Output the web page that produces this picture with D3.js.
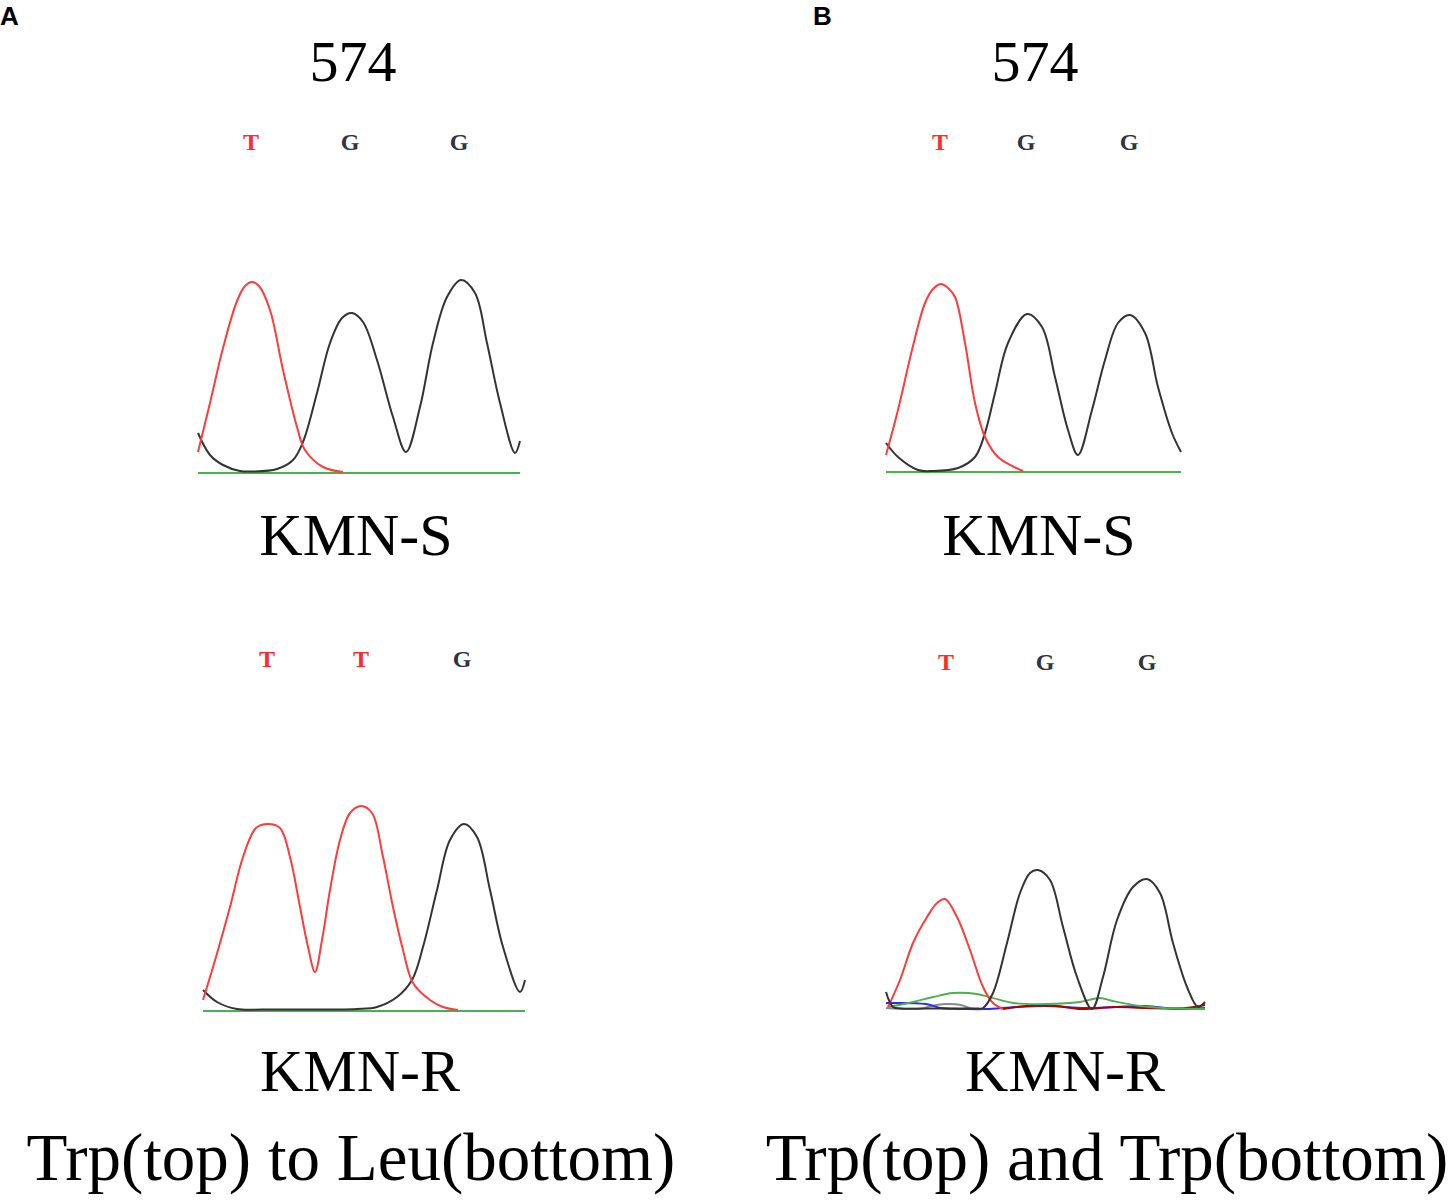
<!DOCTYPE html>
<html><head><meta charset="utf-8">
<script src="https://cdn.jsdelivr.net/npm/d3@7/dist/d3.min.js"></script>
<style>html,body{margin:0;padding:0;background:#fff}</style>
</head><body>
<svg id="chart" width="1449" height="1202"></svg>
<script>
// ---------- DATA ----------
const panelLabels = ["A", "B"];
const positionLabel = "574";
const sampleNames = ["KMN-S", "KMN-R"];
const captions = ["Trp(top) to Leu(bottom)", "Trp(top) and Trp(bottom)"];
const basesA_S = ["T", "G", "G"];
const basesA_R = ["T", "T", "G"];
const basesB_S = ["T", "G", "G"];
const basesB_R = ["T", "G", "G"];

// Trace points: [scan position, signal]
const aS_red = [[0,21],[12,70],[25,125],[39,172],[47,187],[54,191],[61,187],[72,163],[85,103],[99,46],[107,23],[125,6],[145,1]];
const aS_black = [[0,40],[12,18],[25,8],[42,2],[55,1.5],[79,4],[95,13],[105,31],[119,80],[132,130],[144,155],[154,160],[165,151],[179,113],[195,56],[208,21],[222,66],[235,130],[249,176],[263,193],[277,180],[289,130],[302,70],[317,20],[322,32]];
const aR_red = [[0,11],[13,54],[27,104],[40,154],[53,183],[65,187],[77,183],[87,154],[97,104],[105,64],[112,39],[119,71],[127,121],[137,171],[147,198],[158,205],[169,198],[180,154],[190,104],[200,61],[210,28],[227,11],[240,4],[255,1]];
const aR_black = [[0,21],[14,9],[34,2],[60,1.5],[100,1.5],[130,1.5],[154,2],[174,4],[194,14],[209,31],[220,64],[234,121],[247,171],[261,187],[274,174],[287,121],[300,64],[317,19],[322,31]];
const bS_red = [[0,17],[12,62],[26,122],[39,169],[47,183],[55,188],[62,184],[69,175],[79,129],[89,69],[99,35],[112,15],[137,1]];
const bS_black = [[0,29],[12,15],[32,2],[47,1],[72,4],[89,15],[99,39],[109,79],[122,129],[141,158],[156,145],[169,95],[182,42],[192,17],[206,62],[219,112],[232,149],[244,157],[259,139],[272,85],[286,39],[295,20]];
const bR_red = [[2,3],[14,30],[27,67],[41,93],[51,107],[59,111],[71,93],[84,60],[97,23],[107,7],[117,1]];
const bR_black = [[0,18],[7,3],[15,1.5],[40,1.5],[70,1.5],[90,1.5],[97,2],[107,17],[121,67],[134,117],[144,137],[152,140],[164,130],[177,83],[191,33],[206,1],[217,33],[231,90],[247,123],[261,131],[274,117],[287,67],[301,23],[312,3],[319,8]];
const bR_green = [[2,3],[27,8],[47,13],[67,17],[91,16],[107,12],[127,7],[161,6],[194,8],[214,12],[227,9],[254,4],[277,2],[319,1]];
const bR_blue = [[0,7],[40,6],[55,2],[80,1],[100,1],[130,3],[160,4],[200,2],[230,3],[260,4],[290,1],[319,2]];
const bR_noiseRed = [[117,1],[140,4],[170,4],[195,1],[230,3],[260,2],[300,2],[319,5]];
const bR_gray = [[0,2],[35,1.5],[45,4],[60,6],[75,5],[85,1.5],[100,1]];

// ---------- DRAWING ----------
const svg = d3.select("#chart");
const serif = "'Liberation Serif','Times New Roman',serif";
const RED = "#ff3b3b", BLACK = "#333333", GREEN = "#4caf50", BLUE = "#2b2bff", DRED = "#b00000", GRAY = "#8a8a8a";

function panel(cfg) {
  const x = d3.scaleLinear().domain([0, cfg.w]).range([cfg.left, cfg.right]);
  const y = d3.scaleLinear().domain([0, 200]).range([cfg.base, cfg.base - 200]);
  const line = d3.line().x(d => x(d[0])).y(d => y(d[1])).curve(d3.curveCatmullRom.alpha(0.5));
  const g = svg.append("g");
  if (cfg.greenLine) {
    g.append("path").attr("d", line([[0,0],[cfg.w,0]])).attr("stroke", GREEN).attr("stroke-width", 2.2).attr("fill", "none");
  }
  cfg.traces.forEach(t => {
    g.append("path").attr("d", line(t.data)).attr("stroke", t.color).attr("stroke-width", t.sw || 2).attr("fill", "none").attr("stroke-linejoin","round");
  });
  const bx = d3.scaleOrdinal().domain(d3.range(cfg.bases.length)).range(cfg.basePos);
  cfg.bases.forEach((b, i) => {
    g.append("text").attr("x", bx(i)).attr("y", cfg.baseY).attr("text-anchor", "middle")
      .attr("font-family", serif).attr("font-size", 24).attr("font-weight", "bold")
      .attr("fill", b === "T" ? "#ff2a2a" : "#2e3440").text(b);
  });
}

panel({left:198, right:520, w:322, base:473, greenLine:true,
  traces:[{data:aS_black,color:BLACK},{data:aS_red,color:RED}],
  bases:basesA_S, basePos:[251,350,459], baseY:150});
panel({left:203, right:525, w:322, base:1011, greenLine:true,
  traces:[{data:aR_black,color:BLACK},{data:aR_red,color:RED}],
  bases:basesA_R, basePos:[267,361,462], baseY:667});
panel({left:886, right:1181, w:295, base:472, greenLine:true,
  traces:[{data:bS_black,color:BLACK},{data:bS_red,color:RED}],
  bases:basesB_S, basePos:[940,1026,1129], baseY:150});
panel({left:886, right:1205, w:319, base:1010, greenLine:false,
  traces:[{data:bR_gray,color:GRAY,sw:2},{data:bR_blue,color:BLUE,sw:2},{data:bR_noiseRed,color:DRED,sw:2},
          {data:bR_green,color:GREEN,sw:1.8},{data:bR_red,color:RED},{data:bR_black,color:BLACK}],
  bases:basesB_R, basePos:[946,1045,1147], baseY:670});

// Panel letters
[[0, panelLabels[0]], [813, panelLabels[1]]].forEach(([px, t]) => {
  svg.append("text").attr("x", px).attr("y", 25).attr("font-family", "'Liberation Sans',Arial,sans-serif")
    .attr("font-weight", "bold").attr("font-size", 26).attr("fill", "#000").text(t);
});

// Titles
[353, 1035].forEach(cx => {
  svg.append("text").attr("x", cx).attr("y", 81).attr("text-anchor", "middle")
    .attr("font-family", serif).attr("font-size", 58).attr("fill", "#000").text(positionLabel);
});
[[356, 555, sampleNames[0]], [1039, 555, sampleNames[0]], [360, 1091, sampleNames[1]], [1065, 1091, sampleNames[1]]]
  .forEach(([cx, cy, t]) => {
    svg.append("text").attr("x", cx).attr("y", cy).attr("text-anchor", "middle")
      .attr("font-family", serif).attr("font-size", 60).attr("fill", "#000").text(t);
  });
[[351, captions[0]], [1107, captions[1]]].forEach(([cx, t]) => {
  svg.append("text").attr("x", cx).attr("y", 1180).attr("text-anchor", "middle")
    .attr("font-family", serif).attr("font-size", 67).attr("fill", "#000").text(t);
});
</script>
</body></html>
